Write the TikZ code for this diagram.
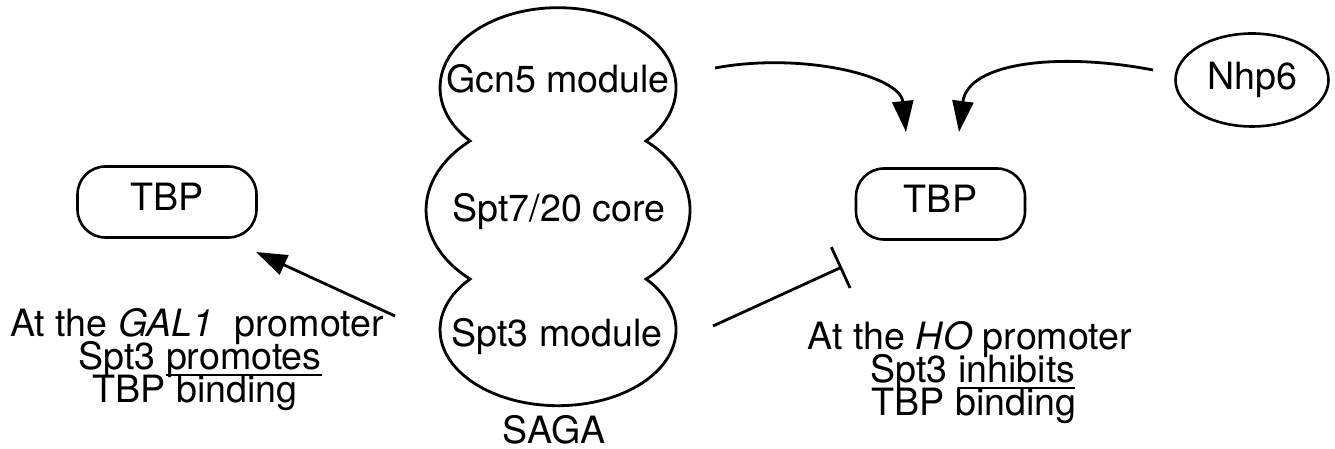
\documentclass[tikz,border=0pt]{standalone}
\usepackage{fontspec}
\setmainfont{TeX Gyre Heros}
\usetikzlibrary{arrows.meta,shapes.geometric}
\newcommand\myul[1]{\setbox0=\hbox{#1}\rlap{\rule[-6pt]{\wd0}{1.6pt}}\box0}
\begin{document}
\begin{tikzpicture}[x=1pt,y=1pt,
  font=\fontsize{37.6}{29}\selectfont,
  line width=2.8pt,
  blob/.style={draw, line width=2.8pt},
  lbl/.style={inner sep=0pt, anchor=base},
  tbp/.style={draw, rounded corners=28pt, minimum height=71pt, inner sep=0pt,
              text height=27pt, text depth=9pt, line width=2.6pt},
  oval/.style={draw, ellipse, inner sep=0pt, line width=2.6pt},
  act/.style={-{Triangle[length=31pt,width=21pt]}, line width=2.8pt},
  inh/.style={-{Bar[width=45pt]}, line width=2.8pt}]
\useasboundingbox (0,0) rectangle (1335,449);
% SAGA complex
\draw[blob] (646,308)
  arc[start angle=-41.8, end angle=221.8, x radius=118, y radius=80]
  arc[start angle=131.8, end angle=228.2, x radius=132, y radius=92.6]
  arc[start angle=138.2, end angle=401.8, x radius=118, y radius=76]
  arc[start angle=-48.2, end angle=48.2, x radius=132, y radius=92.6]
  -- cycle;
\node[lbl] (gcn) at (558,356) {Gcn5 module};
\node[lbl] (core) at (559,227) {Spt7/20 core};
\node[lbl] (spt3) at (557,102) {Spt3 module};
\node[lbl] (saga) at (554,5) {SAGA};
% TBP boxes and Nhp6
\node[tbp, minimum width=179pt] (tbpL) at (167,247) {TBP};
\node[tbp, minimum width=169pt] (tbpR) at (940.5,245) {TBP};
\node[oval, minimum width=153pt, minimum height=93pt] (nhp) at (1252,369) {Nhp6};
% captions, one node per line
\node[lbl] (gal1) at (197,112) {At the \textit{GAL1}\ \ promoter};
\node[lbl] (gal2) at (200,79) {Spt3 \myul{promotes}};
\node[lbl] (gal3) at (195,46) {TBP binding};
\node[lbl] (ho1) at (970,99) {At the \textit{HO} promoter};
\node[lbl] (ho2) at (973,66) {Spt3 \myul{inhibits}};
\node[lbl] (ho3) at (974,33) {TBP binding};
% connectors
\coordinate (g0) at (715,381);
\coordinate (g1) at (906,317);
\draw[act] (g0) .. controls (800,397) and (900,374) .. (g1);
\coordinate (n0) at (1153,379);
\coordinate (n1) at (959,317);
\draw[act] (n0) .. controls (1060,397) and (968,387) .. (n1);
\coordinate (s0) at (395,133);
\coordinate (s1) at (256,197);
\draw[act] (s0) -- (s1);
\coordinate (h0) at (713,123);
\coordinate (h1) at (842,182);
\draw[inh] (h0) -- (h1);
\end{tikzpicture}
\end{document}
